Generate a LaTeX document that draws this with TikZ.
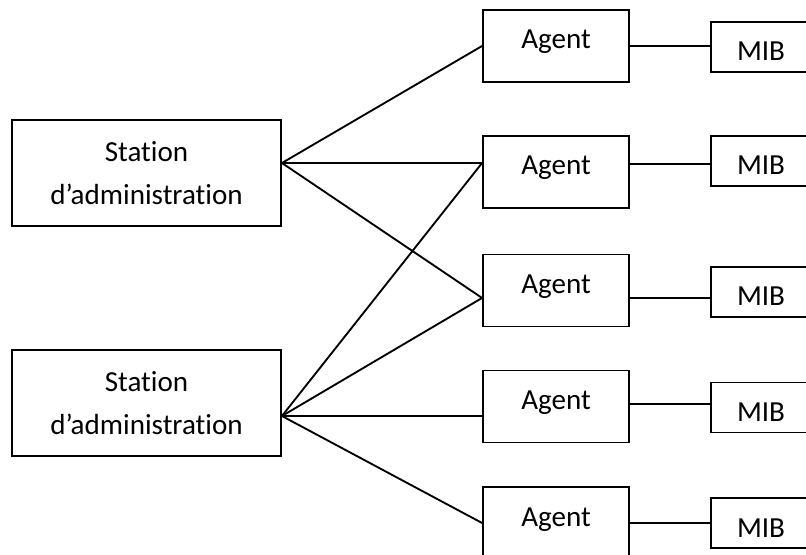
\documentclass[tikz,border=0pt]{standalone}
\usepackage{fontspec}
\setmainfont{Carlito}[Ligatures=NoCommon]
\usetikzlibrary{calc}

\tikzset{
	box/.style={draw, line width=1.4pt, inner sep=0pt, font=\fontsize{21.8}{32.25}\selectfont},
	station/.style={box, minimum width=201.75pt, minimum height=80pt, align=center},
	agent/.style={box, minimum width=109.5pt, minimum height=54pt, text height=13.5pt, text depth=9pt},
	mib/.style={box, minimum width=75pt, minimum height=37.5pt, text height=21pt, text depth=0pt},
	link/.style={line width=1.4pt}
}

\begin{document}
\begin{tikzpicture}[x=0.75pt, y=-0.75pt]
			%%%%% START %%%%%
			\useasboundingbox (0, 0) rectangle (806, 555);
			\clip (0, 0) rectangle (806, 555);
			
			\node[station] (st1) at (146.5, 173) {Station\\d’administration};
			\node[station] (st2) at (146.5, 403) {Station\\d’administration};
			
			\node[agent] (ag1) at (556, 46) {Agent};
			\node[agent] (ag2) at (556, 172) {Agent};
			\node[agent] (ag3) at (556, 290.5) {Agent};
			\node[agent] (ag4) at (556, 406.5) {Agent};
			\node[agent] (ag5) at (556, 523) {Agent};
			
			\node[mib] (mib1) at (761, 47) {MIB};
			\node[mib] (mib2) at (761, 161) {MIB};
			\node[mib] (mib3) at (761, 292) {MIB};
			\node[mib] (mib4) at (761, 407.5) {MIB};
			\node[mib] (mib5) at (761, 523) {MIB};
			
			\coordinate (s1) at ([yshift=7.5pt]st1.east);
			\coordinate (s2) at ([yshift=-9.75pt]st2.east);
			\coordinate (in3) at ([yshift=-5.6pt]ag3.west);
			
			\draw[link] (s1) -- (ag1.west);
			\draw[link] (s1) -- (s1 -| ag2.west);
			\draw[link] (s1) -- (in3);
			
			\draw[link] (s2) -- (s1 -| ag2.west);
			\draw[link] (s2) -- (in3);
			\draw[link] (s2) -- (s2 -| ag4.west);
			\draw[link] (s2) -- (ag5.west);
			
			\coordinate (out2) at ([yshift=6pt]ag2.east);
			\coordinate (out3) at ([yshift=-5.6pt]ag3.east);
			\coordinate (out4) at ([yshift=1.9pt]ag4.east);
			
			\draw[link] (ag1.east) -- (ag1.east -| mib1.west);
			\draw[link] (out2) -- (out2 -| mib2.west);
			\draw[link] (out3) -- (out3 -| mib3.west);
			\draw[link] (out4) -- (out4 -| mib4.west);
			\draw[link] (ag5.east) -- (ag5.east -| mib5.west);
			
			%%%%% END %%%%%
\end{tikzpicture}
\end{document}
